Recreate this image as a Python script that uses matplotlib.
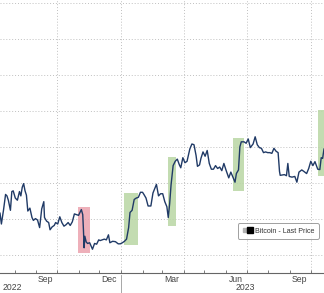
import pandas as pd
import matplotlib.pyplot as plt
import matplotlib.dates as mdates
from matplotlib.lines import Line2D
from matplotlib.legend_handler import HandlerTuple

plt.rcParams["font.family"] = ["Liberation Sans", "DejaVu Sans"]

# Bitcoin last price
dates = [
    "2022-07-11", "2022-07-13", "2022-07-16", "2022-07-19", "2022-07-21", "2022-07-23", "2022-07-26",
    "2022-07-28", "2022-07-30", "2022-08-02", "2022-08-05", "2022-08-08", "2022-08-10", "2022-08-12",
    "2022-08-14", "2022-08-16", "2022-08-18", "2022-08-20", "2022-08-23", "2022-08-26", "2022-08-28",
    "2022-08-31", "2022-09-03", "2022-09-06", "2022-09-09", "2022-09-12", "2022-09-13", "2022-09-16",
    "2022-09-19", "2022-09-21", "2022-09-24", "2022-09-27", "2022-09-29", "2022-10-02", "2022-10-05",
    "2022-10-08", "2022-10-11", "2022-10-14", "2022-10-17", "2022-10-20", "2022-10-23", "2022-10-26",
    "2022-10-29", "2022-11-01", "2022-11-05", "2022-11-07", "2022-11-08", "2022-11-09", "2022-11-10",
    "2022-11-12", "2022-11-14", "2022-11-17", "2022-11-21", "2022-11-24", "2022-11-27", "2022-11-30",
    "2022-12-02", "2022-12-05", "2022-12-08", "2022-12-11", "2022-12-14", "2022-12-16", "2022-12-20",
    "2022-12-24", "2022-12-28", "2022-12-31", "2023-01-03", "2023-01-06", "2023-01-09", "2023-01-12",
    "2023-01-14", "2023-01-17", "2023-01-20", "2023-01-23", "2023-01-26", "2023-01-29", "2023-02-01",
    "2023-02-03", "2023-02-06", "2023-02-09", "2023-02-13", "2023-02-16", "2023-02-19", "2023-02-21",
    "2023-02-24", "2023-02-27", "2023-03-02", "2023-03-05", "2023-03-08", "2023-03-10", "2023-03-12",
    "2023-03-14", "2023-03-17", "2023-03-20", "2023-03-23", "2023-03-26", "2023-03-28", "2023-03-31",
    "2023-04-03", "2023-04-06", "2023-04-10", "2023-04-13", "2023-04-16", "2023-04-19", "2023-04-21",
    "2023-04-24", "2023-04-26", "2023-04-29", "2023-05-02", "2023-05-05", "2023-05-08", "2023-05-11",
    "2023-05-14", "2023-05-17", "2023-05-20", "2023-05-23", "2023-05-26", "2023-05-29", "2023-06-01",
    "2023-06-05", "2023-06-08", "2023-06-11", "2023-06-14", "2023-06-16", "2023-06-19", "2023-06-21",
    "2023-06-23", "2023-06-27", "2023-06-30", "2023-07-03", "2023-07-06", "2023-07-10", "2023-07-13",
    "2023-07-16", "2023-07-19", "2023-07-22", "2023-07-25", "2023-07-28", "2023-07-31", "2023-08-03",
    "2023-08-06", "2023-08-09", "2023-08-12", "2023-08-15", "2023-08-17", "2023-08-18", "2023-08-21",
    "2023-08-24", "2023-08-27", "2023-08-29", "2023-08-31", "2023-09-04", "2023-09-08", "2023-09-11",
    "2023-09-14", "2023-09-18", "2023-09-21", "2023-09-25", "2023-09-28", "2023-10-01", "2023-10-04",
    "2023-10-07", "2023-10-11", "2023-10-14", "2023-10-16", "2023-10-18", "2023-10-20",
]
prices = [
    20800, 19300, 21200, 23400, 23200, 22600, 21200,
    23800, 23900, 22900, 22600, 23800, 23200, 24400,
    24900, 23900, 23300, 21100, 21500, 20200, 19800,
    20050, 19850, 18800, 21400, 22400, 20200, 19700,
    19500, 18500, 18900, 19100, 19500, 19300, 20300,
    19500, 19000, 19200, 19500, 19100, 19600, 20700,
    20600, 20500, 21300, 20600, 18500, 16000, 17600,
    16800, 16600, 16700, 15800, 16600, 16500, 17100,
    17000, 17100, 17200, 17100, 17800, 16700, 16900,
    16850, 16550, 16550, 16700, 16900, 17200, 18800,
    20900, 21200, 22700, 22900, 23000, 23700, 23700,
    23400, 22900, 21800, 21800, 23600, 24300, 24800,
    23200, 23500, 23500, 22400, 21700, 20200, 22100,
    24700, 27400, 28000, 28300, 27500, 27100, 28500,
    27800, 28000, 29700, 30400, 30300, 28800, 27300,
    27500, 28400, 29300, 28700, 29500, 27700, 26900,
    26900, 27400, 27000, 27200, 26700, 27700, 26800,
    25700, 26500, 25800, 25100, 26300, 26800, 30000,
    30700, 30700, 30500, 31100, 29900, 30400, 31400,
    30300, 29900, 29800, 29200, 29300, 29200, 29200,
    29100, 29800, 29400, 29200, 26600, 26050, 26100,
    26150, 26000, 27700, 25900, 25800, 25900, 25100,
    26500, 26800, 26600, 26300, 27000, 28000, 27400,
    27950, 26900, 26850, 28500, 28400, 29700,
]

# highlighted windows: start, end, low, high
box_start = ["2022-10-31", "2023-01-06", "2023-03-09", "2023-06-11", "2023-10-11"]
box_end = ["2022-11-17", "2023-01-25", "2023-03-21", "2023-06-27", "2023-10-30"]
box_low = [15300, 16400, 19000, 23900, 25950]
box_high = [21700, 23650, 28650, 31200, 35100]
box_color = ["#eba3ae", "#b9d6a4", "#b9d6a4", "#b9d6a4", "#b9d6a4"]

data = pd.DataFrame({"date": pd.to_datetime(dates), "price": prices})

fig = plt.figure(figsize=(3.24, 2.93), dpi=100)
ax = fig.add_axes([0, 20.3 / 293, 1, 272.7 / 293])

for s, e, lo, hi, c in zip(box_start, box_end, box_low, box_high, box_color):
    ax.fill_between([pd.Timestamp(s), pd.Timestamp(e)], lo, hi, color=c, alpha=0.85, lw=0, zorder=1)

ax.plot(data["date"], data["price"], color="#203a66", lw=1.0, zorder=3)

ax.set_xlim(pd.Timestamp("2022-07-11"), pd.Timestamp("2023-10-20"))
ax.set_ylim(12544, 50375)

# grid: quarters and every 5000
ax.grid(False)
for q in ["2022-10-01", "2023-01-01", "2023-04-01", "2023-07-01", "2023-10-01"]:
    ax.axvline(pd.Timestamp(q), color="#c0c0c0", lw=0.7, ls=(0, (1, 2)), zorder=0)
for yv in range(15000, 50001, 5000):
    ax.axhline(yv, color="#c0c0c0", lw=0.7, ls=(0, (1, 2)), zorder=0)

for side in ["top", "left", "right"]:
    ax.spines[side].set_visible(False)
ax.spines["bottom"].set_color("#666666")
ax.spines["bottom"].set_linewidth(0.8)
ax.tick_params(axis="y", left=False, labelleft=False)

ax.xaxis.set_major_locator(mdates.MonthLocator())
ax.xaxis.set_major_formatter(plt.NullFormatter())
ax.xaxis.set_minor_locator(mdates.MonthLocator(bymonth=[3, 6, 9, 12], bymonthday=15))
ax.xaxis.set_minor_formatter(mdates.DateFormatter("%b"))
ax.tick_params(axis="x", which="major", direction="in", length=2.5, width=0.6, color="#666666")
ax.tick_params(axis="x", which="minor", length=0, pad=2.0, labelsize=6.2, labelcolor="#444444")

# year labels and separator
trans = ax.get_xaxis_transform()
ax.text(pd.Timestamp("2022-07-28"), -0.056, "2022", transform=trans, ha="center", va="center",
        fontsize=6.2, color="#444444")
ax.text(pd.Timestamp("2023-06-29"), -0.056, "2023", transform=trans, ha="center", va="center",
        fontsize=6.2, color="#444444")
ax.plot([pd.Timestamp("2023-01-01")] * 2, [-0.01, -0.09], transform=trans, color="#999999",
        lw=0.6, clip_on=False)

# legend
h = (Line2D([], [], marker="s", ls="", color="#b0b0b0", markersize=2.3),
     Line2D([], [], marker="s", ls="", color="black", markersize=4.5))
leg = ax.legend([h], ["Bitcoin - Last Price"], handler_map={tuple: HandlerTuple(ndivide=None, pad=0.1)},
                loc="upper left", bbox_to_anchor=(238 / 324, 1 - 223.3 / 272.7),
                borderaxespad=0, fontsize=5.1, frameon=True, fancybox=True,
                handlelength=1.5, handletextpad=0.3, borderpad=0.6)
leg.get_frame().set_edgecolor("#888888")
leg.get_frame().set_linewidth(0.7)
for t in leg.get_texts():
    t.set_color("#333333")

fig.savefig("out.png", dpi=100)
